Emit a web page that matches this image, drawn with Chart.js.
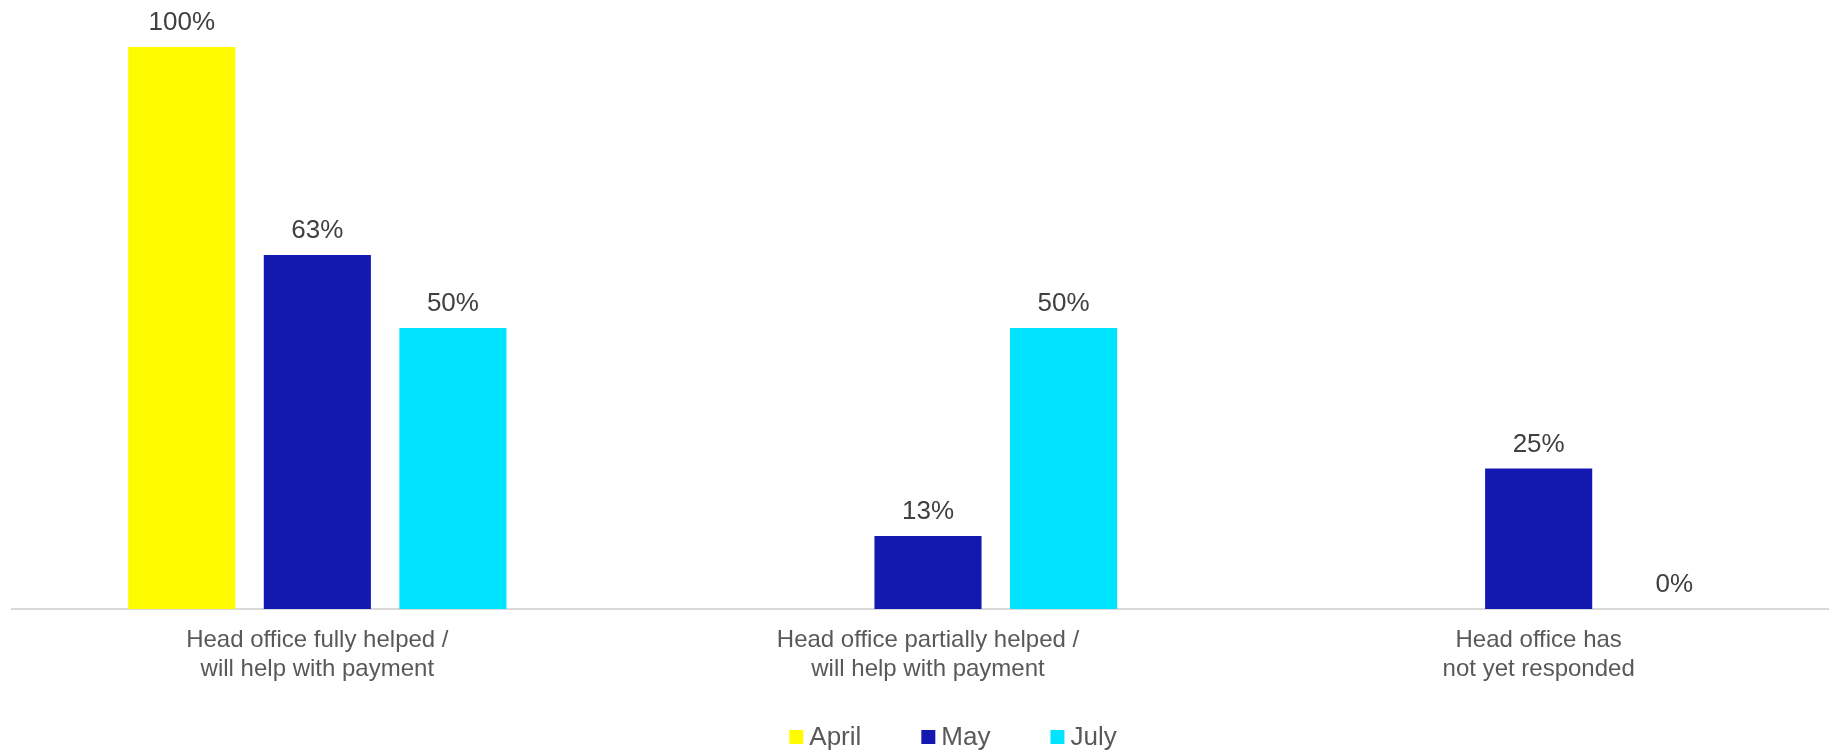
<!DOCTYPE html>
<html>
<head>
<meta charset="utf-8">
<title>Head office response</title>
<script src="https://cdn.jsdelivr.net/npm/chart.js@4"></script>
<style>
    html, body { margin: 0; padding: 0; background: #fff; overflow: hidden; }
    /* plot runs a little past the right edge in the original, so the canvas is wider than the page */
    #wrap { width: 1844px; height: 750px; position: relative; }
</style>
</head>
<body>
<div id="wrap"><canvas id="responseChart"></canvas></div>
<script>
// Chart data
const categories = [
    ['Head office fully helped /', 'will help with payment'],
    ['Head office partially helped /', 'will help with payment'],
    ['Head office has', 'not yet responded']
];
const seriesNames = ['April', 'May', 'July'];
const aprilValues = [100, null, null];
const mayValues = [63, 13, 25];
const julyValues = [50, 50, 0];
const seriesColors = ['#FFFB00', '#1318B0', '#00E4FF'];

const FONT = '"Liberation Sans", Arial, sans-serif';

// Percent labels above each bar
const valueLabels = {
    id: 'valueLabels',
    afterDatasetsDraw(chart) {
        const ctx = chart.ctx;
        ctx.save();
        ctx.font = '26px ' + FONT;
        ctx.fillStyle = '#404040';
        ctx.textAlign = 'center';
        ctx.textBaseline = 'alphabetic';
        chart.data.datasets.forEach((ds, i) => {
            const meta = chart.getDatasetMeta(i);
            meta.data.forEach((bar, j) => {
                const v = ds.data[j];
                if (v === null || v === undefined) return;
                ctx.fillText(v + '%', bar.x, bar.y - 17);
            });
        });
        ctx.restore();
    }
};

// Legend drawn by hand so box/text spacing matches the original
const bottomLegend = {
    id: 'bottomLegend',
    afterDraw(chart) {
        const ctx = chart.ctx;
        const box = 14, gap = 6, spacing = 60;
        ctx.save();
        ctx.font = '26px ' + FONT;
        const widths = seriesNames.map(n => ctx.measureText(n).width);
        let total = 0;
        widths.forEach((w, i) => { total += box + gap + w + (i < widths.length - 1 ? spacing : 0); });
        let x = 953 - total / 2;
        const cy = 737;
        ctx.textBaseline = 'middle';
        ctx.textAlign = 'left';
        seriesNames.forEach((name, i) => {
            ctx.fillStyle = seriesColors[i];
            ctx.fillRect(x, cy - box / 2, box, box);
            ctx.fillStyle = '#595959';
            ctx.fillText(name, x + box + gap, cy + 1);
            x += box + gap + widths[i] + spacing;
        });
        ctx.restore();
    }
};

const seriesValues = [aprilValues, mayValues, julyValues];

new Chart(document.getElementById('responseChart'), {
    type: 'bar',
    data: {
        labels: categories,
        datasets: seriesNames.map((name, i) => ({
            label: name,
            data: seriesValues[i],
            backgroundColor: seriesColors[i],
            borderWidth: 0,
            categoryPercentage: 0.666,
            barPercentage: 0.79
        }))
    },
    options: {
        responsive: true,
        maintainAspectRatio: false,
        animation: false,
        layout: {
            padding: { top: 47, left: 12, right: 0, bottom: 49 }
        },
        plugins: {
            legend: { display: false },
            tooltip: { enabled: false }
        },
        scales: {
            x: {
                grid: { display: false, drawTicks: false },
                border: { display: true, color: '#d9d9d9', width: 2 },
                ticks: {
                    color: '#595959',
                    padding: 17,
                    maxRotation: 0,
                    autoSkip: false,
                    font: { family: FONT, size: 24, lineHeight: 29 / 24 }
                }
            },
            y: {
                display: false,
                min: 0,
                max: 100
            }
        }
    },
    plugins: [valueLabels, bottomLegend]
});
</script>
</body>
</html>
